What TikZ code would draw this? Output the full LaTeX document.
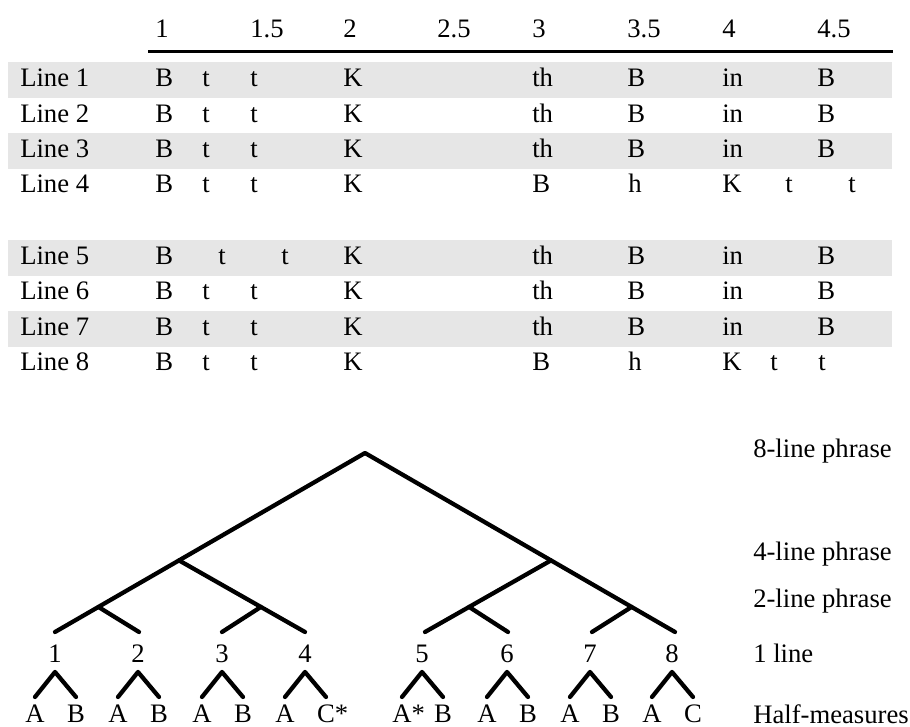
\documentclass[tikz,border=0pt]{standalone}
\usepackage{fontspec}
\setmainfont{Liberation Serif}
\newfontfamily\labelfont{Liberation Serif}
\usetikzlibrary{calc}
\definecolor{bandgray}{RGB}{230,230,230}
\begin{document}
\begin{tikzpicture}[x=0.75pt,y=-0.75pt,
  txt/.style={anchor=base west,inner sep=0pt,font=\labelfont\fontsize{20}{24}\selectfont},
  ctxt/.style={anchor=base,inner sep=0pt,font=\labelfont\fontsize{20}{24}\selectfont},
  branch/.style={line width=3.2pt,line cap=round,line join=round},
  rulestyle/.style={line width=2.25pt}]
\useasboundingbox (0,0) rectangle (910,727);

% shaded rows of the table
\foreach \b in {87,157.6,264.5,335.1}
  \fill[bandgray] (8,{\b-24.5}) rectangle (892,{\b+11.5});

% beat header and rule
\foreach \lab/\x [count=\i] in {1/155,1.5/250,2/343,2.5/437,3/532,3.5/627,4/722,4.5/817}
  \node[txt] (h\i) at (\x,38) {\lab};
\coordinate (ruleL) at (148,51.5);
\coordinate (ruleR) at (893,51.5);
\draw[rulestyle] (ruleL) -- (ruleR);

% regular lines
\foreach \n/\y in {1/87,2/122.3,3/157.6,6/299.8,7/335.1} {
  \node[txt] (row\n) at (20,\y) {Line \n};
  \foreach \s/\x [count=\k] in {B/155,t/202,t/250,K/343,th/532,B/627,in/722,B/817}
    \node[txt] (c\n-\k) at (\x,\y) {\s};
}
% line 5
\node[txt] (row5) at (20,264.5) {Line 5};
\foreach \s/\x [count=\k] in {B/155,t/218,t/281,K/343,th/532,B/627,in/722,B/817}
  \node[txt] (c5-\k) at (\x,264.5) {\s};
% line 4
\node[txt] (row4) at (20,192.9) {Line 4};
\foreach \s/\x [count=\k] in {B/155,t/202,t/250,K/343,B/532,h/628,K/722,t/785,t/848}
  \node[txt] (c4-\k) at (\x,192.9) {\s};
% line 8
\node[txt] (row8) at (20,370.4) {Line 8};
\foreach \s/\x [count=\k] in {B/155,t/202,t/250,K/343,B/532,h/628,K/722,t/770,t/818}
  \node[txt] (c8-\k) at (\x,370.4) {\s};

% phrase tree
\coordinate (root) at (365,453);
\foreach \i/\x in {1/55,2/139,3/222,4/305,5/425,6/508,7/592,8/675}
  \coordinate (t\i) at (\x,632);
\coordinate (L4) at ($(root)!0.6!(t1)$);
\coordinate (R4) at ($(root)!0.6!(t8)$);
\coordinate (L2a) at ($(root)!0.86!(t1)$);
\coordinate (R2b) at ($(root)!0.86!(t8)$);
\coordinate (L2b) at ($(L4)!0.65!(t4)$);
\coordinate (R2a) at ($(R4)!0.65!(t5)$);
\draw[branch] (t1) -- (root) -- (t8);
\draw[branch] (L4) -- (t4);
\draw[branch] (R4) -- (t5);
\draw[branch] (L2a) -- (t2);
\draw[branch] (L2b) -- (t3);
\draw[branch] (R2a) -- (t6);
\draw[branch] (R2b) -- (t7);

% line numbers and half-measures
\foreach \i/\x/\la/\lb in {1/55/A/B,2/138/A/B,3/222/A/B,4/305/A/C\rlap{*},
                           5/422/A\rlap{*}/B,6/507/A/B,7/590/A/B,8/672/A/C} {
  \node[ctxt] (n\i) at (\x,662) {\i};
  \coordinate (ha\i) at (\x,672);
  \coordinate (hl\i) at ({\x-20},697);
  \coordinate (hr\i) at ({\x+21},697);
  \draw[branch] (hl\i) -- (ha\i) -- (hr\i);
  \node[ctxt] (ma\i) at ({\x-20},722) {\la};
  \node[ctxt] (mb\i) at ({\x+21},722) {\lb};
}

% level labels
\node[txt] (lv8) at (753,457) {8-line phrase};
\node[txt] (lv4) at (753,560) {4-line phrase};
\node[txt] (lv2) at (753,607) {2-line phrase};
\node[txt] (lv1) at (753,662) {1 line};
\node[txt] (lvh) at (753,723) {Half-measures};
\end{tikzpicture}
\end{document}
